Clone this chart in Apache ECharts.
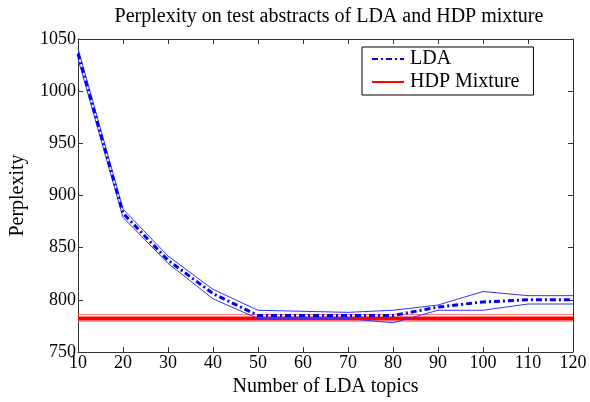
<!DOCTYPE html>
<html><head><meta charset="utf-8">
<script src="https://cdn.jsdelivr.net/npm/echarts@6/dist/echarts.min.js"></script>
<style>html,body{margin:0;padding:0;background:#fff}#c{width:590px;height:402px}</style>
</head><body><div id="c"></div>
<script>
const topics = [10,20,30,40,50,60,70,80,90,100,110,120];
const ldaMean  = [1036,883,838,806,785,785,785,785,793,798,800,800];
const ldaUpper = [1041,887,842,810,790,789,788,790,795,808,804,804];
const ldaLower = [1031,879,835,801,782,782,782,778,790,790,796,796];
const hdpMean = 782;
const hdpUpper = 786;
const hdpLower = 779.5;
const xTicks = [10,20,30,40,50,60,70,80,90,100,110,120];
const yTicks = [750,800,850,900,950,1000,1050];

const pair = (xs, ys) => xs.map((x,i)=>[x, ys[i]]);
const flat = v => [[topics[0], v],[topics[topics.length-1], v]];
const font = 'Liberation Serif';
const chart = echarts.init(document.getElementById('c'));
const axisCommon = {
  type:'value', min:xTicks[0], max:xTicks[xTicks.length-1], interval:10,
  axisLine:{show:true,lineStyle:{color:'#333',width:1}},
  axisTick:{show:true,inside:true,length:5,lineStyle:{color:'#333'}},
  splitLine:{show:false}
};
chart.setOption({
  animation:false,
  title:{text:'Perplexity on test abstracts of LDA and HDP mixture',left:324,textAlign:'center',top:2,
    textStyle:{fontFamily:font,fontWeight:'normal',fontSize:20,color:'#000'}},
  grid:{left:78,right:17,top:39,bottom:44},
  legend:{orient:'vertical',left:362,top:47,width:158,padding:[2,14,3,9],itemGap:3,
    borderColor:'#000',borderWidth:1,itemWidth:32,itemHeight:20,
    itemStyle:{opacity:0},
    data:['LDA','HDP Mixture'],
    textStyle:{fontFamily:font,fontSize:20,color:'#000',padding:[0,0,0,1]}},
  xAxis:[
    Object.assign({},axisCommon,{position:'bottom',
      name:'Number of LDA topics',nameLocation:'middle',nameGap:25,
      nameTextStyle:{fontFamily:font,fontSize:20,color:'#000'},
      axisLabel:{fontFamily:font,fontSize:18,color:'#000',margin:2}}),
    Object.assign({},axisCommon,{position:'top',axisLabel:{show:false}})
  ],
  yAxis:[
    {type:'value',min:yTicks[0],max:yTicks[yTicks.length-1],interval:50,position:'left',
      name:'Perplexity',nameLocation:'middle',nameGap:50,nameRotate:90,
      nameTextStyle:{fontFamily:font,fontSize:20,color:'#000'},
      axisLine:{show:true,lineStyle:{color:'#333'}},
      axisTick:{show:true,inside:true,length:5,lineStyle:{color:'#333'}},
      splitLine:{show:false},
      axisLabel:{fontFamily:font,fontSize:18,color:'#000',margin:2,formatter:v=>String(v)}},
    {type:'value',min:yTicks[0],max:yTicks[yTicks.length-1],interval:50,position:'right',
      axisLine:{show:true,lineStyle:{color:'#333'}},
      axisTick:{show:true,inside:true,length:5,lineStyle:{color:'#333'}},
      splitLine:{show:false},axisLabel:{show:false}}
  ],
  series:[
    {name:'HDP Mixture',type:'line',data:flat(hdpMean),showSymbol:false,symbol:'none',
      lineStyle:{color:'#ff0000',width:4},itemStyle:{color:'#ff0000'},z:3},
    {name:'HDP upper',type:'line',data:flat(hdpUpper),symbol:'none',
      lineStyle:{color:'#ff7777',width:1},z:2},
    {name:'HDP lower',type:'line',data:flat(hdpLower),symbol:'none',
      lineStyle:{color:'#ff7777',width:1},z:2},
    {name:'LDA upper',type:'line',data:pair(topics,ldaUpper),symbol:'none',
      lineStyle:{color:'#3333ff',width:1},z:4},
    {name:'LDA lower',type:'line',data:pair(topics,ldaLower),symbol:'none',
      lineStyle:{color:'#3333ff',width:1},z:4},
    {name:'LDA',type:'line',data:pair(topics,ldaMean),showSymbol:false,symbol:'none',
      lineStyle:{color:'#0000ff',width:3,type:[6,3,2,3]},itemStyle:{color:'#0000ff'},z:5}
  ]
});
</script></body></html>
